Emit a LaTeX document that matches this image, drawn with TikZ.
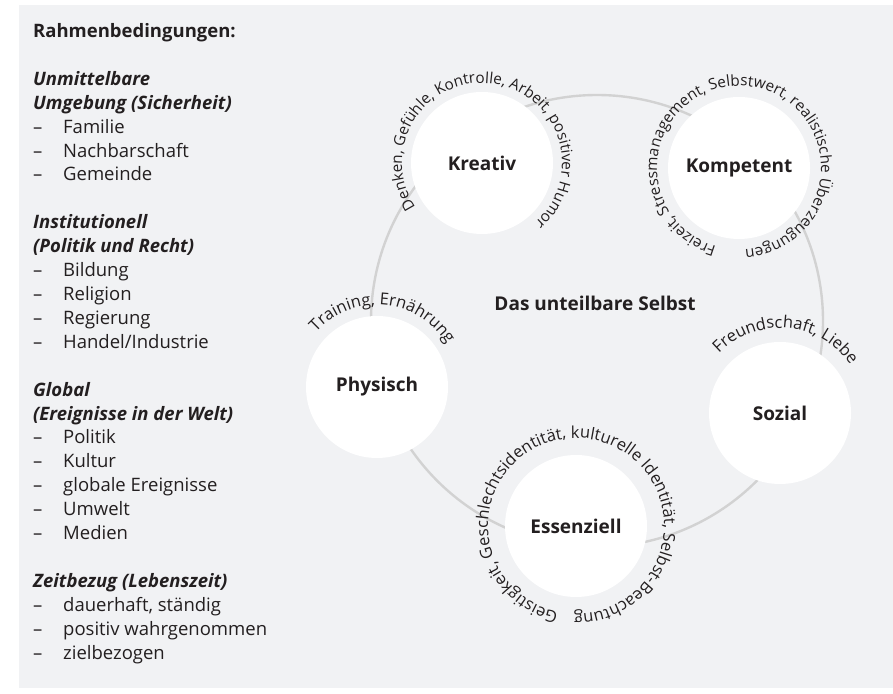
\documentclass[tikz,border=0pt]{standalone}
\usepackage{fontspec}
\setmainfont{Open Sans}
\usepackage{xcolor}
\usepackage{tikz}
\usetikzlibrary{positioning, decorations.text}

\definecolor{panelgrau}{HTML}{F1F2F4}
\definecolor{ringgrau}{HTML}{D2D2D2}
\definecolor{textdunkel}{HTML}{231F20}

\newcommand{\punkt}[1]{\makebox[30pt][l]{–}#1}

\begin{document}
\begin{tikzpicture}[
			x=1pt, y=1pt,
			every node/.style={text=textdunkel},
			selbstkreis/.style={circle, fill=white, minimum size=142pt, inner sep=0pt, font=\fontsize{19}{22}\selectfont\bfseries},
			ringlinie/.style={draw=ringgrau, line width=2.4pt},
			legende/.style={align=left, inner sep=0pt, font=\fontsize{18.5}{23.9}\selectfont},
			bogentext/.style n args={2}{decorate, decoration={text along path, text align=center, text color=textdunkel, text format delimiters={|}{|}, text={|\fontsize{#1}{20}\selectfont|#2}}}
			]
			
			% Hintergrund
			\useasboundingbox (0,0) rectangle (893,693);
			\fill[panelgrau] (19,5) rectangle (893,688);
			
			% Rahmenbedingungen
			\node[legende, anchor=base west] (rahmen) at (33,34) {%
				\textbf{Rahmenbedingungen:}\\[23.9pt]
				\textbf{\textit{Unmittelbare}}\\
				\textbf{\textit{Umgebung (Sicherheit)}}\\
				\punkt{Familie}\\
				\punkt{Nachbarschaft}\\
				\punkt{Gemeinde}\\[23.9pt]
				\textbf{\textit{Institutionell}}\\
				\textbf{\textit{(Politik und Recht)}}\\
				\punkt{Bildung}\\
				\punkt{Religion}\\
				\punkt{Regierung}\\
				\punkt{Handel/Industrie}\\[23.9pt]
				\textbf{\textit{Global}}\\
				\textbf{\textit{(Ereignisse in der Welt)}}\\
				\punkt{Politik}\\
				\punkt{Kultur}\\
				\punkt{globale Ereignisse}\\
				\punkt{Umwelt}\\
				\punkt{Medien}\\[23.9pt]
				\textbf{\textit{Zeitbezug (Lebenszeit)}}\\
				\punkt{dauerhaft, ständig}\\
				\punkt{positiv wahrgenommen}\\
				\punkt{zielbezogen}};
			
			% Ring
			\coordinate (mitte) at (597,372);
			\draw[ringlinie] (mitte) circle[radius=226];
			
			% Kreise
			\node[selbstkreis] (kreativ) at (482,530) {Kreativ};
			\node[selbstkreis] (kompetent) at (739,525) {Kompetent};
			\node[selbstkreis] (sozial) at (780,280) {Sozial};
			\node[selbstkreis] (essenziell) at (576,167) {Essenziell};
			\node[selbstkreis] (physisch) at (377,306) {Physisch};
			\node[font=\fontsize{19}{22}\selectfont\bfseries] (selbst) at (595,390) {Das unteilbare Selbst};
			
			% Bogentexte
			\path[bogentext={15.3}{Denken, Gefühle, Kontrolle, Arbeit, positiver Humor}]
				([shift={(kreativ.center)}]262:80) arc[start angle=262, end angle=-97, radius=80];
			\path[bogentext={15.3}{Freizeit, Stressmanagement, Selbstwert, realistische Überzeugungen}]
				([shift={(kompetent.center)}]263.5:82) arc[start angle=263.5, end angle=-95.5, radius=82];
			\path[bogentext={16.5}{Freundschaft, Liebe}]
				([shift={(sozial.center)}]264:85) arc[start angle=264, end angle=-94, radius=85];
			\path[bogentext={16.5}{Geistigkeit, Geschlechtsidentität, kulturelle Identität, Selbst-Beachtung}]
				([shift={(essenziell.center)}]263:88) arc[start angle=263, end angle=-96, radius=88];
			\path[bogentext={16.5}{Training, Ernährung}]
				([shift={(physisch.center)}]264:82) arc[start angle=264, end angle=-94.5, radius=82];
			
		\end{tikzpicture}
\end{document}
